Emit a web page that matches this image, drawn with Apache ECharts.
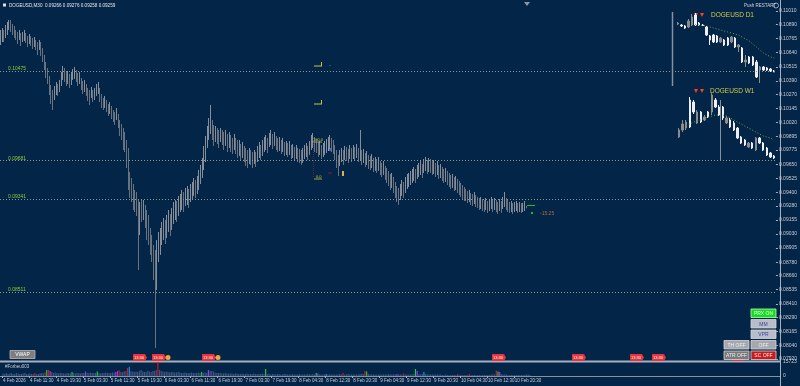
<!DOCTYPE html>
<html><head><meta charset="utf-8">
<script src="https://cdn.jsdelivr.net/npm/echarts@6/dist/echarts.min.js"></script>
<style>html,body{margin:0;padding:0;background:#032548;}#c{width:800px;height:386px;}</style>
</head><body><div id="c"></div>
<script>
// ---------------- DATA (prices in 1e-5 units) ----------------
const headerText = 'DOGEUSD,M30  0.09266 0.09276 0.09258 0.09259';
const timeLabels = ['4 Feb 2026','4 Feb 11:30','4 Feb 19:30','5 Feb 03:30','5 Feb 11:30','5 Feb 19:30','6 Feb 03:30','6 Feb 11:30','6 Feb 19:30','7 Feb 03:30','7 Feb 19:30','8 Feb 04:30','8 Feb 12:30','8 Feb 20:30','9 Feb 04:30','9 Feb 12:30','9 Feb 20:30','10 Feb 04:30','10 Feb 12:30','10 Feb 20:30'];
const priceTicks = [11010,10890,10765,10640,10515,10390,10270,10145,10020,9895,9775,9650,9525,9400,9280,9155,9030,8905,8780,8660,8535,8410,8290,8165,8040,7920];
const volumeTicks = [15723, 0];
const firstOpen = 10750;
const closes = [10771,10815,10788,10842,10859,10886,10868,10842,10824,10797,10771,10806,10753,10779,10788,10771,10735,10762,10744,10717,10735,10708,10682,10717,10664,10593,10522,10469,10415,10327,10256,10220,10291,10327,10309,10362,10415,10469,10442,10398,10424,10380,10415,10451,10469,10433,10398,10415,10362,10327,10344,10309,10273,10247,10291,10256,10273,10309,10327,10256,10220,10184,10202,10167,10131,10149,10105,10078,10060,10096,10025,9971,9936,9900,9820,9705,9554,9465,9421,9368,9332,9288,9110,9243,9225,9261,9172,9110,9048,8959,8888,8799,8577,8844,8932,8995,9021,9083,9048,9110,9137,9101,9172,9208,9243,9225,9279,9296,9332,9314,9350,9368,9332,9385,9403,9439,9421,9465,9510,9563,9616,9705,9794,9883,9971,10025,9936,9883,9918,9900,9865,9909,9883,9847,9883,9829,9865,9829,9812,9847,9812,9776,9794,9758,9776,9732,9705,9687,9723,9705,9678,9714,9687,9732,9776,9749,9794,9820,9847,9812,9865,9883,9847,9874,9838,9812,9829,9803,9820,9785,9794,9776,9794,9758,9767,9740,9758,9732,9723,9705,9732,9758,9776,9749,9794,9847,9865,9829,9812,9776,9794,9758,9776,9794,9812,9829,9847,9820,9803,9758,9687,9643,9705,9732,9705,9749,9740,9723,9758,9732,9758,9740,9767,9732,9749,9705,9723,9687,9705,9669,9661,9678,9643,9652,9634,9652,9616,9598,9616,9572,9545,9527,9492,9510,9465,9421,9385,9368,9403,9439,9421,9465,9492,9510,9527,9545,9563,9545,9581,9598,9616,9590,9634,9652,9625,9643,9634,9616,9625,9598,9616,9581,9590,9563,9545,9554,9527,9510,9492,9501,9474,9483,9456,9439,9421,9403,9385,9376,9359,9368,9341,9332,9350,9323,9314,9296,9305,9288,9279,9296,9270,9288,9305,9279,9296,9279,9261,9288,9270,9305,9332,9296,9279,9261,9270,9252,9270,9279,9261,9270,9252,9261,9279,9259];
const highs = [10842,10859,10842,10886,10913,10930,10930,10895,10877,10842,10824,10842,10815,10824,10842,10815,10788,10806,10788,10771,10779,10753,10735,10753,10735,10682,10620,10557,10504,10433,10353,10309,10344,10380,10362,10398,10469,10522,10504,10469,10478,10451,10469,10495,10513,10486,10460,10469,10415,10389,10398,10362,10327,10309,10336,10309,10327,10362,10380,10327,10273,10238,10256,10220,10184,10202,10167,10131,10113,10149,10096,10042,10007,9971,9936,9865,9794,9581,9527,9474,9421,9403,9332,9314,9332,9332,9288,9243,9199,9083,9021,8932,8888,8976,9048,9083,9137,9172,9154,9199,9243,9208,9261,9314,9332,9323,9368,9385,9421,9403,9439,9456,9430,9474,9492,9527,9510,9545,9598,9643,9705,9812,9900,9989,10060,10176,10042,9998,9989,9971,9954,9971,9954,9936,9954,9918,9936,9909,9883,9918,9883,9865,9865,9829,9847,9812,9794,9776,9794,9776,9758,9776,9758,9812,9847,9820,9865,9891,9909,9883,9927,9954,9918,9936,9900,9883,9891,9865,9883,9847,9856,9838,9856,9820,9829,9803,9820,9794,9785,9776,9794,9820,9838,9812,9856,9909,9927,9891,9874,9847,9856,9820,9838,9856,9874,9891,9909,9883,9865,9820,9776,9732,9776,9794,9776,9812,9803,9785,9820,9794,9820,9803,9829,9794,9954,9776,9785,9749,9767,9732,9723,9740,9705,9714,9696,9714,9678,9661,9678,9634,9616,9590,9563,9572,9536,9492,9456,9439,9474,9510,9492,9536,9563,9572,9590,9607,9625,9607,9643,9661,9678,9652,9696,9714,9687,9705,9696,9678,9687,9661,9678,9643,9652,9625,9607,9616,9590,9572,9554,9563,9536,9545,9519,9501,9483,9465,9447,9430,9412,9421,9394,9385,9403,9376,9359,9350,9359,9341,9332,9350,9323,9341,9359,9332,9350,9332,9314,9341,9323,9359,9403,9350,9332,9314,9323,9305,9314,9323,9305,9314,9305,9305,9323,9280];
const lows = [10708,10735,10735,10771,10797,10842,10824,10797,10771,10753,10717,10753,10700,10735,10744,10726,10691,10717,10700,10673,10691,10664,10620,10664,10611,10557,10486,10415,10362,10264,10184,10131,10220,10264,10256,10291,10344,10398,10380,10344,10362,10327,10353,10398,10407,10380,10344,10362,10309,10273,10291,10256,10211,10176,10238,10202,10220,10256,10273,10202,10149,10131,10149,10113,10078,10096,10051,10025,9998,10042,9971,9900,9865,9776,9758,9616,9421,9350,9314,9243,9225,9190,8710,9021,9137,9154,9083,8976,8932,8844,8781,8622,8018,8533,8781,8844,8932,8976,8941,8995,9048,9012,9066,9119,9154,9137,9190,9225,9243,9225,9279,9288,9261,9314,9332,9368,9350,9385,9421,9474,9527,9598,9669,9794,9865,9918,9865,9812,9847,9829,9794,9847,9820,9776,9812,9758,9794,9758,9740,9776,9740,9705,9723,9687,9705,9669,9634,9616,9652,9643,9616,9652,9625,9669,9705,9687,9723,9758,9776,9749,9803,9820,9785,9812,9776,9758,9767,9740,9758,9723,9732,9714,9732,9696,9705,9678,9696,9669,9661,9643,9661,9696,9714,9687,9732,9776,9794,9758,9749,9714,9732,9696,9714,9732,9749,9767,9785,9758,9740,9687,9616,9545,9634,9669,9643,9687,9678,9661,9696,9669,9696,9678,9705,9669,9687,9643,9661,9625,9643,9607,9598,9616,9581,9590,9572,9590,9554,9536,9554,9510,9483,9456,9421,9439,9394,9350,9314,9288,9332,9368,9350,9394,9430,9447,9465,9483,9501,9483,9519,9536,9554,9527,9572,9590,9563,9581,9572,9554,9563,9536,9554,9519,9527,9501,9483,9492,9465,9447,9430,9439,9412,9421,9394,9376,9359,9341,9323,9323,9305,9314,9288,9279,9296,9270,9261,9243,9252,9234,9225,9243,9217,9234,9252,9225,9243,9225,9208,9234,9217,9252,9270,9243,9225,9217,9225,9208,9225,9234,9217,9225,9217,9225,9234,9258];
const volumes = [2800,2240,3360,2240,2800,3360,2240,2240,3360,2800,2240,2240,2800,3360,2240,2240,2800,2240,2240,3360,2240,2240,2800,3360,2800,
3920,6720,6720,5600,4480,
3360,3920,3360,2800,3360,3360,2800,2800,3360,3360,2800,
4480,3360,2800,3360,3360,2800,3360,3360,5040,3360,3360,3920,3360,3360,3360,5040,
3360,2800,3360,3360,3920,3360,3360,3360,3920,3920,
4480,5600,6160,4480,4480,5040,5600,8960,10080,5600,5040,
4480,5040,4480,5600,6720,5040,4480,4480,5600,5040,4480,5600,5600,6720,15723,6720,
5600,5040,4480,5040,4480,3920,4480,4480,3920,3920,4480,3920,3360,3360,3920,3360,3360,3360,3920,3360,3360,3360,3920,3360,
4480,3360,3920,3360,6720,5600,5600,5040,
3920,3360,3360,3360,2800,2800,3360,2800,2800,2800,2800,2240,2800,2800,2240,2240,2800,2240,2240,2800,2240,2240,2240,2800,2240,2240,2240,2240,2800,2240,
7840,
2240,2240,1680,2240,2240,1680,2240,2240,1680,1680,2240,2240,1680,1680,1680,2240,1680,1680,1680,2240,1680,1680,1680,1680,2240,1680,1680,2240,1680,
3360,2800,1680,1680,1680,1680,2240,1680,1680,1680,1680,1680,1680,1680,2240,1680,3360,
1680,1680,2240,1680,1680,1680,1680,1680,1680,2240,2240,2240,5600,5040,2240,
1680,1680,1680,1680,1680,1680,1680,1680,1680,1680,1680,2240,1680,1680,1680,1680,2240,1680,1680,1680,2800,
1680,1680,1680,1680,1680,2240,7840,5600,2240,1680,2240,4480,
2240,1680,1680,1680,1680,1680,1680,1680,1680,1680,1120,1120,1680,1120,1120,1120,1120,1120,1120,2240,
1120,1120,1120,1120,1120,1120,2240,1120,1120,1120,1120,1120,1120,1120,1120,1120,1120,1120,1120,1680,1680,
1680,6160,5040,4480,2240,
1680,1680,1680,1120,1120,1120,1120,1120,1120,1120,1120,1120,1120,1120,1680,1680,1120];
const volumeColorKeys = {19:'r',25:'r',26:'g',27:'r',28:'p',41:'g',49:'p',56:'g',67:'p',68:'p',69:'r',74:'r',75:'b',92:'r',118:'g',122:'p',156:'g',186:'g',187:'p',192:'b',202:'r',215:'r',216:'g',234:'p',238:'r',245:'g',246:'p',250:'b',270:'r',277:'r',293:'r',294:'g',295:'p'};
const levels = [10475, 9681, 9341, 8511];
const lastPrice = 9259;
const TOTAL_BARS = 462;

// D1 mini chart
const d1Open  = [12400,12350,12300,12250,12350,12850,12450,12350,12250,11800,11850,11800,11500,11600,11700,11500,11700,11250,11200,10500,10750,10750,10500,10100,10250,10200,10150,10050];
const d1Close = [12450,12300,12200,12550,12750,12350,12350,12325,11850,11600,11500,11500,11700,11350,11350,11750,11250,11350,10500,10600,10450,10350,9750,10250,10100,10100,10050,10000];
const d1Low   = [12350,12250,12150,12200,12300,12300,12300,12300,11800,11350,11450,11450,11450,11300,11300,11450,11200,11000,10450,10250,10400,10300,9700,9450,10050,10050,10000,10000];
const d1High  = [12500,12400,12350,12650,12900,12950,12500,12400,12300,11850,11900,11850,11750,11650,11750,11800,11750,11400,11250,10850,10800,10800,10600,10300,10300,10250,10200,10100];
const d1MaStart = 4;
const d1Ma = [12400,12375,12350,12325,12300,12250,12200,12150,12100,12050,12000,11950,11900,11850,11750,11650,11550,11400,11250,11100,10950,10850,10750,10700];
// W1 mini chart
const w1Open  = [11300,12000,12200,15000,14800,12700,13800,13000,13800,13800,15000,14300,14300,12700,13000,12700,12200,11300,11000,10300,10700,10000,11200,10700,10200,9700,9400];
const w1Close = [12000,12600,12800,12300,13800,13800,12800,13300,13300,15500,14300,13500,13200,13200,12300,12000,11200,10700,10500,10700,10200,11200,10700,10000,9500,9300,9200];
const w1Low   = [11200,11800,12000,12200,13600,12600,12700,12900,13200,13500,14200,13400,13000,12600,12200,11900,11100,10600,10400,10200,10100,9900,10600,9900,9400,9200,9100];
const w1High  = [12200,13000,13000,15300,15000,14000,13900,13500,13900,15700,15200,14500,14400,13400,13200,12900,12300,11400,11100,10800,10800,11300,11300,10800,10300,9800,9500];
const w1MaStart = 2;
const w1Ma = [12400,12600,12800,12900,13000,13200,13300,13400,13500,13500,13500,13400,13200,13000,12800,12600,12400,12200,12000,11800,11600,11400,11300,11200,11000];

// ---------------- BUILD ----------------
const FONT = 'Liberation Sans';
const fmt = v => (v / 1e5).toFixed(5);
const cats = Array.from({length: TOTAL_BARS}, (_, i) => String(i));
const candleRows = closes.map((c, i) => {
  const o = i === 0 ? firstOpen : closes[i - 1];
  return [o, c, Math.min(lows[i], o, c), Math.max(highs[i], o, c)];
});
const volPalette = {r:'#d81818', g:'#20c848', p:'#9a3ce8', b:'#2a86f0'};
const volData = volumes.map((v, i) => ({value: v, itemStyle: {color: volPalette[volumeColorKeys[i]] || '#40557e'}}));
const rows = (o, c, l, h) => o.map((v, i) => [v, c[i], l[i], h[i]]);
const pad = (n, arr) => Array(n).fill('-').concat(arr);
const showTick = idx => idx % 16 === 0 && idx / 16 < timeLabels.length;

const levelLines = [];
levels.forEach(v => {
  levelLines.push({yAxis: v, lineStyle: {color: '#8e9a86', type: [1, 2], width: 1},
    label: {show: true, position: 'insideStartTop', distance: [8, 0], formatter: fmt(v), color: '#8ccf2e', fontSize: 5, fontFamily: FONT}});
  levelLines.push({yAxis: v, lineStyle: {opacity: 0},
    label: {show: true, position: 'end', distance: 1, formatter: fmt(v), color: '#1a1a1a', backgroundColor: '#cdc57c', padding: [1, 1, 0, 1], fontSize: 5, fontFamily: FONT}});
});
levelLines.push({yAxis: lastPrice, lineStyle: {opacity: 0},
  label: {show: true, position: 'end', distance: 1, formatter: fmt(lastPrice), color: '#000', backgroundColor: '#ffffff', padding: [1, 1, 0, 1], fontSize: 5, fontFamily: FONT}});

function btn(x, y, w, h, fill, text, tc, stroke) {
  return {type: 'group', children: [
    {type: 'rect', shape: {x: x, y: y, width: w, height: h}, style: {fill: fill, stroke: stroke || '#d8d8d8', lineWidth: 0.8}},
    {type: 'text', x: x + w / 2, y: y + h / 2 + 0.5, style: {text: text, fill: tc, font: '5px ' + FONT, textAlign: 'center', textVerticalAlign: 'middle'}}
  ]};
}
function flag(x, circle) {
  const ch = [
    {type: 'polygon', shape: {points: [[x, 354], [x + 12, 354], [x + 14, 357.5], [x + 12, 361], [x, 361]]}, style: {fill: '#e8333a'}},
    {type: 'text', x: x + 6, y: 358, style: {text: '13:30', fill: '#ffffff', font: '4px ' + FONT, textAlign: 'center', textVerticalAlign: 'middle'}}
  ];
  if (circle) ch.push({type: 'circle', shape: {cx: x + 16, cy: 357.5, r: 2.5}, style: {fill: '#f0a83a'}});
  return {type: 'group', children: ch};
}
const txt = (x, y, t, fill, size, extra) => Object.assign({type: 'text', x: x, y: y, style: Object.assign({text: t, fill: fill, font: size + 'px ' + FONT, textVerticalAlign: 'middle'}, extra || {})});
const ln = (x1, y1, x2, y2, c, w, dash) => ({type: 'line', shape: {x1: x1, y1: y1, x2: x2, y2: y2}, style: {stroke: c, lineWidth: w || 1, lineDash: dash || null}});

const graphics = [
  ln(0, 361.5, 780, 361.5, '#a9b0bd', 2),
  ln(0, 376.5, 780, 376.5, '#8a92a2', 1),
  ln(780.5, 0, 780.5, 386, '#a9b0bd', 1),
  {type: 'rect', shape: {x: 3, y: 3.5, width: 3, height: 3}, style: {fill: '#e0e0e0'}},
  txt(9, 5.5, headerText, '#e6e6e6', 4.6),
  txt(744, 5.5, 'Push RESTART', '#d0d4dc', 4.5),
  {type: 'circle', shape: {cx: 776, cy: 5.5, r: 2.5}, style: {fill: 'none', stroke: '#d0d4dc', lineWidth: 0.7}},
  {type: 'polygon', shape: {points: [[524, 2], [530, 2], [527, 6]]}, style: {fill: '#8e96a6'}},
  // mini chart decorations
  ln(672.5, 12, 672.5, 86, '#8890a0', 1.5),
  ln(720.5, 100, 720.5, 160, '#8890a0', 1),
  {type: 'polygon', shape: {points: [[694, 13], [698, 13], [696, 17]]}, style: {fill: '#ff4020'}},
  {type: 'polygon', shape: {points: [[700, 13], [704, 13], [702, 17]]}, style: {fill: '#ff4020'}},
  txt(711, 15.5, 'DOGEUSD D1', '#d2c84a', 6.5),
  {type: 'polygon', shape: {points: [[694, 89], [698, 89], [696, 93]]}, style: {fill: '#ff4020'}},
  {type: 'polygon', shape: {points: [[700, 89], [704, 89], [702, 93]]}, style: {fill: '#ff4020'}},
  txt(710, 91.5, 'DOGEUSD W1', '#d2c84a', 6.5),
  // fibo-like markers
  ln(314, 66, 322, 66, '#c8c440', 1), ln(321.5, 62, 321.5, 66, '#c8c440', 1),
  ln(314, 104, 322, 104, '#c8c440', 1), ln(321.5, 100, 321.5, 104, '#c8c440', 1),
  {type: 'rect', shape: {x: 329, y: 65, width: 2, height: 1}, style: {fill: '#2040c0'}},
  txt(313, 139.5, '100.0', '#c8c440', 4),
  ln(312, 142, 322, 142, '#c8c440', 0.8),
  ln(313.5, 142, 313.5, 178, '#7a2a40', 0.8, [1, 1]),
  txt(316, 176.5, '0.0', '#c8c440', 4),
  ln(314, 179, 322, 179, '#c8c440', 0.8),
  {type: 'rect', shape: {x: 328, y: 172.5, width: 4, height: 1}, style: {fill: '#802030'}},
  {type: 'rect', shape: {x: 328, y: 148, width: 3, height: 3}, style: {fill: '#4060e0'}},
  {type: 'rect', shape: {x: 342, y: 171, width: 2, height: 5}, style: {fill: '#e0b040'}},
  // current bar markers
  ln(527, 205.5, 535, 205.5, '#10c020', 1),
  {type: 'rect', shape: {x: 531, y: 212, width: 2, height: 2}, style: {fill: '#10c020'}},
  txt(540, 213.5, '-15:25', '#b86a3c', 5),
  // flags
  flag(133, false), flag(152, true), flag(202, true), flag(492, false), flag(572, false), flag(630, false), flag(652, false), flag(732, false),
  // buttons
  btn(10, 350.5, 25, 8, '#7e7e80', 'VWAP', '#ffffff', '#b8b8b8'),
  btn(751, 309, 25, 8.5, '#0fe01a', 'PRX ON', '#ffffff', '#c8f8c8'),
  btn(751, 319.5, 25, 8.5, '#b8bccb', 'MM', '#3a4a8a'),
  btn(751, 330, 25, 8.5, '#b8bccb', 'VPR', '#3a4a8a'),
  btn(724, 340.5, 25, 8.5, '#a6a8b0', 'TH OFF', '#eeeeee'),
  btn(751, 340.5, 25, 8.5, '#a6a8b0', 'OFF', '#eeeeee'),
  btn(724, 351, 25, 8.5, '#7a7a7e', 'ATR OFF', '#eeeeee'),
  btn(751, 351, 25, 8.5, '#c81a1a', 'SC OFF', '#eeeeee'),
  txt(5, 366.5, '#Forbeu003', '#c8ccd4', 4.5)
];

const chart = echarts.init(document.getElementById('c'), null, {renderer: 'canvas'});
chart.setOption({
  backgroundColor: '#032548',
  animation: false,
  grid: [
    {left: 0, width: 780, top: 0, height: 361},
    {left: 0, width: 780, top: 362, height: 14},
    {left: 676, width: 100, top: 12, height: 73},
    {left: 677, width: 99, top: 93, height: 67}
  ],
  xAxis: [
    {type: 'category', gridIndex: 0, data: cats, show: false},
    {type: 'category', gridIndex: 1, data: cats,
      axisLine: {show: false},
      axisTick: {show: true, interval: showTick, length: 2, lineStyle: {color: '#a9b0bd'}},
      axisLabel: {show: true, interval: showTick, formatter: (v, i) => timeLabels[Math.round(i / 16)] || '', align: 'left', margin: 2,
        color: '#c8ccd4', fontSize: 4.5, fontFamily: FONT}},
    {type: 'category', gridIndex: 2, data: d1Open.map((_, i) => 'd' + i), show: false},
    {type: 'category', gridIndex: 3, data: w1Open.map((_, i) => 'w' + i), show: false}
  ],
  yAxis: [
    {type: 'value', gridIndex: 0, position: 'right', min: 7902, max: 11108, splitLine: {show: false}, axisLine: {show: false},
      axisTick: {show: true, customValues: priceTicks, length: 2, lineStyle: {color: '#a9b0bd'}},
      axisLabel: {customValues: priceTicks, formatter: fmt, color: '#c8ccd4', fontSize: 5, fontFamily: FONT, margin: 3}},
    {type: 'value', gridIndex: 1, position: 'right', min: 0, max: 15723, splitLine: {show: false}, axisLine: {show: false},
      axisTick: {show: false},
      axisLabel: {customValues: volumeTicks, formatter: v => String(Math.round(v)), color: '#c8ccd4', fontSize: 5, fontFamily: FONT, margin: 3}},
    {type: 'value', gridIndex: 2, min: 9350, max: 13000, show: false},
    {type: 'value', gridIndex: 3, min: 9000, max: 15700, show: false}
  ],
  series: [
    {type: 'candlestick', xAxisIndex: 0, yAxisIndex: 0, data: candleRows, barWidth: '50%',
      itemStyle: {color: '#a9a9ad', color0: '#85868c', borderColor: '#a9a9ad', borderColor0: '#85868c', borderWidth: 0.8},
      markLine: {silent: true, symbol: ['none', 'none'], animation: false, data: levelLines}},
    {type: 'bar', xAxisIndex: 1, yAxisIndex: 1, data: volData, barWidth: '70%'},
    {type: 'candlestick', xAxisIndex: 2, yAxisIndex: 2, data: rows(d1Open, d1Close, d1Low, d1High), barWidth: '55%',
      itemStyle: {color: '#8c8c8c', color0: '#eeeef4', borderColor: '#8c8c8c', borderColor0: '#eeeef4', borderWidth: 1}},
    {type: 'line', xAxisIndex: 2, yAxisIndex: 2, data: pad(d1MaStart, d1Ma), showSymbol: false, lineStyle: {color: '#7ea03a', width: 1, type: [1, 2]}},
    {type: 'candlestick', xAxisIndex: 3, yAxisIndex: 3, data: rows(w1Open, w1Close, w1Low, w1High), barWidth: '55%',
      itemStyle: {color: '#8c8c8c', color0: '#eeeef4', borderColor: '#8c8c8c', borderColor0: '#eeeef4', borderWidth: 1}},
    {type: 'line', xAxisIndex: 3, yAxisIndex: 3, data: pad(w1MaStart, w1Ma), showSymbol: false, lineStyle: {color: '#7ea03a', width: 1, type: [1, 2]}}
  ],
  graphic: graphics
});
</script></body></html>
